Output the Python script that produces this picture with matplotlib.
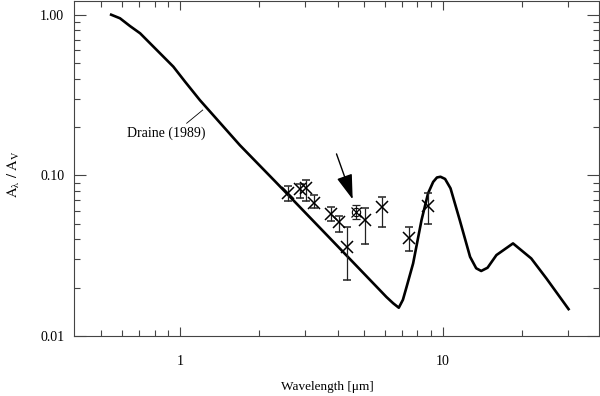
import numpy as np
import matplotlib
matplotlib.use('Agg')
import matplotlib.pyplot as plt
from matplotlib.ticker import LogLocator, FixedLocator, FixedFormatter, NullFormatter

plt.rcParams['font.family'] = ['Liberation Serif', 'DejaVu Serif']
plt.rcParams['mathtext.fontset'] = 'stix'

# Draine (1989) extinction curve
draine_x = [0.547, 0.591, 0.645, 0.705, 0.943, 1.045, 1.19, 1.69, 2.30, 3.72, 5.76, 6.1,
            6.47, 6.8, 7.05, 7.28, 7.71, 8.3, 8.79, 9.19, 9.5, 9.8, 10.2, 10.7, 11.6, 12.7,
            13.4, 14.0, 14.8, 16.0, 18.5, 21.7, 24.8, 30.1]
draine_y = [1.00, 0.95, 0.85, 0.766, 0.475, 0.383, 0.294, 0.154, 0.0918, 0.0406, 0.0193, 0.0175,
            0.0160, 0.0150, 0.0168, 0.0202, 0.0283, 0.0527, 0.0773, 0.091, 0.097, 0.098, 0.095, 0.083,
            0.0527, 0.0311, 0.0264, 0.0254, 0.0266, 0.0319, 0.0377, 0.0304, 0.0228, 0.0147]

# measured points (crosses with error bars)
obs_x = [2.57, 2.86, 3.01, 3.24, 3.75, 4.02, 4.33, 5.05, 5.85, 7.45, 8.79]
obs_y = [0.0773, 0.0818, 0.083, 0.067, 0.0574, 0.0512, 0.0359, 0.0527, 0.0638, 0.0405, 0.0644]
obs_lo = [0.0695, 0.0719, 0.0692, 0.0623, 0.0519, 0.0442, 0.0223, 0.0373, 0.0475, 0.0338, 0.0497]
obs_hi = [0.0858, 0.0883, 0.0935, 0.0754, 0.0635, 0.0558, 0.0475, 0.0629, 0.0736, 0.0475, 0.0773]

# the highlighted point (circle + cross)
hl_x, hl_y, hl_lo, hl_hi = 4.67, 0.0588, 0.0534, 0.0653

ytick_vals = [0.01, 0.1, 1.0]
ytick_labels = ['0.01', '0.10', '1.00']
xtick_vals = [1, 10]
xtick_labels = ['1', '10']

fig = plt.figure(figsize=(6, 3.96), dpi=100)
ax = fig.add_axes([74 / 600, 60 / 396, 525 / 600, 335 / 396])
ax.set_xscale('log')
ax.set_yscale('log')
ax.set_xlim(0.395, 39.3)
ax.set_ylim(0.01, 1.217)

ax.plot(draine_x, draine_y, color='black', lw=1.9, solid_joinstyle='round')

obs_x = np.array(obs_x)
obs_y = np.array(obs_y)
yerr = [obs_y - np.array(obs_lo), np.array(obs_hi) - obs_y]
ax.errorbar(obs_x, obs_y, yerr=yerr, fmt='x', color='black', ms=8.5, mew=1.1,
            ecolor='#222222', elinewidth=0.9, capsize=2.8, capthick=0.9)
ax.errorbar([hl_x], [hl_y], yerr=[[hl_y - hl_lo], [hl_hi - hl_y]], fmt='x', color='black',
            ms=7, mew=0.9, ecolor='#222222', elinewidth=0.9, capsize=2.8, capthick=0.9)
ax.plot([hl_x], [hl_y], 'o', mfc='none', mec='black', ms=6, mew=0.8)

# arrow pointing at the highlighted point
ax.annotate('', xy=(4.54, 0.0709), xytext=(3.94, 0.136),
            arrowprops=dict(arrowstyle='-|>,head_length=1.1,head_width=0.35',
                            mutation_scale=14, lw=1.0, color='black',
                            shrinkA=0, shrinkB=0))

# label for the curve
ax.plot([1.06, 1.22], [0.211, 0.255], color='black', lw=0.6)
ax.text(0.89, 0.1826, 'Draine (1989)', fontsize=10, ha='center', va='center')

ax.xaxis.set_major_locator(FixedLocator(xtick_vals))
ax.xaxis.set_major_formatter(FixedFormatter(xtick_labels))
ax.xaxis.set_minor_locator(FixedLocator([0.5, 0.6, 0.7, 0.8, 0.9, 2, 3, 4, 5, 6, 7, 8, 9, 20, 30]))
ax.xaxis.set_minor_formatter(NullFormatter())
ax.yaxis.set_major_locator(FixedLocator(ytick_vals))
ax.yaxis.set_major_formatter(FixedFormatter(ytick_labels))
ax.yaxis.set_minor_locator(LogLocator(base=10, subs=np.arange(2, 10)))
ax.yaxis.set_minor_formatter(NullFormatter())

ax.tick_params(axis='both', which='both', direction='in', top=True, right=True,
               color='#444444', width=0.8, labelsize=10)
ax.tick_params(axis='x', which='major', length=6.5, pad=14)
ax.tick_params(axis='x', which='minor', length=4.3)
ax.tick_params(axis='y', which='major', length=8.6, pad=7)
ax.tick_params(axis='y', which='minor', length=4.3)
for sp in ax.spines.values():
    sp.set_color('#444444')
    sp.set_linewidth(0.8)

ax.set_xlabel('Wavelength [μm]', fontsize=9.5)
ax.xaxis.set_label_coords(0.482, -0.133)
ax.set_ylabel(r'$\mathrm{A_\lambda\ /\ A_V}$', fontsize=10.5)
ax.yaxis.set_label_coords(-0.1, 0.484)

fig.savefig('out.png', dpi=100)
